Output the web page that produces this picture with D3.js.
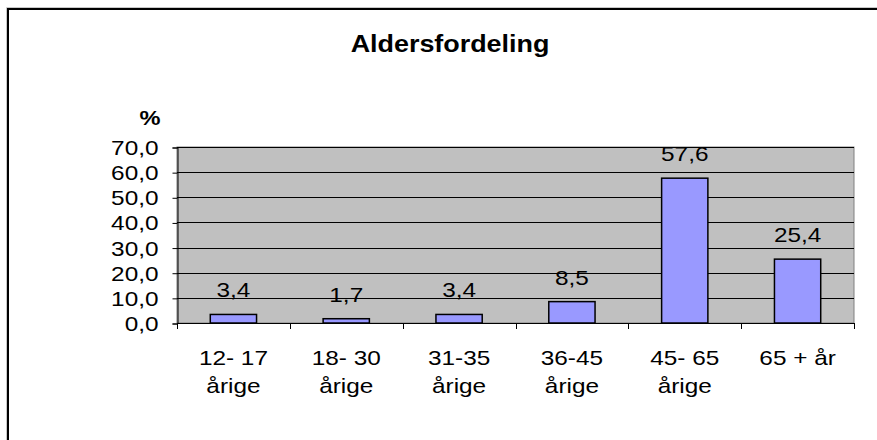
<!DOCTYPE html>
<html>
<head>
<meta charset="utf-8">
<script src="https://cdn.jsdelivr.net/npm/d3@7"></script>
<style>
  body { margin: 0; background: #fff; overflow: hidden; }
  svg { display: block; }
  text { font-family: "Liberation Sans", Arial, sans-serif; fill: #000; }
</style>
</head>
<body>
<div id="chart"></div>
<script>
// data
const categories = ["12- 17|årige", "18- 30|årige", "31-35|årige", "36-45|årige", "45- 65|årige", "65 + år"];
const values = [3.4, 1.7, 3.4, 8.5, 57.6, 25.4];
const yTicks = [0, 10, 20, 30, 40, 50, 60, 70];
const title = "Aldersfordeling";
const yUnit = "%";

const width = 877, height = 440;
const plot = {left: 177, right: 854, top: 147, bottom: 323};
const sx = 1.16; // text is a bit wider than normal

const fmt = d3.formatLocale({decimal: ",", thousands: ".", grouping: [3], currency: ["", ""]}).format(".1f");

var svg = d3.select("#chart").append("svg")
  .attr("width", width)
  .attr("height", height);

// outer chart frame: only top and left edges are inside the picture
var frame = svg.append("g");
frame.append("path")
  .attr("d", "M6.5," + height + "V7.5H" + width)
  .attr("fill", "none").attr("stroke", "#c8c8c8");
frame.append("path")
  .attr("d", "M8," + height + "V9H" + width)
  .attr("fill", "none").attr("stroke", "#000").attr("stroke-width", 2);

var x = d3.scaleBand()
  .domain(categories)
  .range([plot.left, plot.right])
  .paddingInner(0.59)
  .paddingOuter(0.295);

var y = d3.scaleLinear()
  .domain([0, 70])
  .range([plot.bottom, plot.top]);

// plot area
svg.append("rect")
  .attr("x", plot.left).attr("y", plot.top)
  .attr("width", plot.right - plot.left).attr("height", plot.bottom - plot.top)
  .attr("fill", "#c0c0c0")
  .attr("stroke", "#808080");

// gridlines
svg.append("g")
  .selectAll("line")
  .data(yTicks.filter(d => d > 0))
  .enter().append("line")
    .attr("x1", plot.left).attr("x2", plot.right)
    .attr("y1", d => Math.round(y(d)) + 0.5).attr("y2", d => Math.round(y(d)) + 0.5)
    .attr("stroke", "#000");

// y axis
var yAxis = d3.axisLeft(y).tickValues(yTicks).tickSize(5).tickPadding(14).tickFormat(fmt);
var gy = svg.append("g")
  .attr("transform", "translate(" + (plot.left + 0.5) + ",0.5)")
  .call(yAxis);
gy.select(".domain").attr("stroke", "#000");
gy.selectAll(".tick line").attr("stroke", "#000");
gy.selectAll(".tick text")
  .attr("font-size", 21)
  .attr("font-family", "Liberation Sans, Arial, sans-serif")
  .attr("fill", "#000")
  .attr("x", null)
  .attr("dy", null)
  .attr("text-anchor", "end")
  .attr("transform", "translate(-19,7) scale(" + sx + ",1)");

// x axis line and ticks at band boundaries
var gx = svg.append("g");
gx.append("line")
  .attr("x1", plot.left).attr("x2", plot.right)
  .attr("y1", plot.bottom + 0.5).attr("y2", plot.bottom + 0.5)
  .attr("stroke", "#000");
gx.selectAll("line.tk")
  .data(d3.range(categories.length + 1))
  .enter().append("line")
    .attr("class", "tk")
    .attr("x1", i => Math.round(plot.left + i * x.step()) + 0.5)
    .attr("x2", i => Math.round(plot.left + i * x.step()) + 0.5)
    .attr("y1", plot.bottom).attr("y2", plot.bottom + 6)
    .attr("stroke", "#000");

// category labels
var cat = svg.append("g")
  .selectAll("g")
  .data(categories)
  .enter().append("g")
    .attr("transform", d => "translate(" + (x(d) + x.bandwidth() / 2) + ",0)");
cat.selectAll("text")
  .data(d => d.split("|"))
  .enter().append("text")
    .attr("text-anchor", "middle")
    .attr("font-size", 21)
    .attr("transform", (t, i) => "translate(0," + (365 + i * 28) + ") scale(" + sx + ",1)")
    .text(t => t);

// bars
svg.append("g")
  .selectAll("rect")
  .data(values)
  .enter().append("rect")
    .attr("x", (d, i) => x(categories[i]))
    .attr("y", d => y(d))
    .attr("width", x.bandwidth())
    .attr("height", d => y(0) - y(d))
    .attr("fill", "#9999ff")
    .attr("stroke", "#000")
    .attr("stroke-width", 1.5);

// value labels
svg.append("g")
  .selectAll("text")
  .data(values)
  .enter().append("text")
    .attr("text-anchor", "middle")
    .attr("font-size", 21)
    .attr("transform", (d, i) => "translate(" + (x(categories[i]) + x.bandwidth() / 2) + "," + (y(d) - 17) + ") scale(" + sx + ",1)")
    .text(d => fmt(d));

// title and unit
svg.append("text")
  .attr("text-anchor", "middle")
  .attr("font-size", 23)
  .attr("font-weight", "bold")
  .attr("transform", "translate(450,52) scale(1.17,1)")
  .text(title);

svg.append("text")
  .attr("text-anchor", "middle")
  .attr("font-size", 20)
  .attr("font-weight", "bold")
  .attr("transform", "translate(150,125) scale(1.18,1)")
  .text(yUnit);
</script>
</body>
</html>
